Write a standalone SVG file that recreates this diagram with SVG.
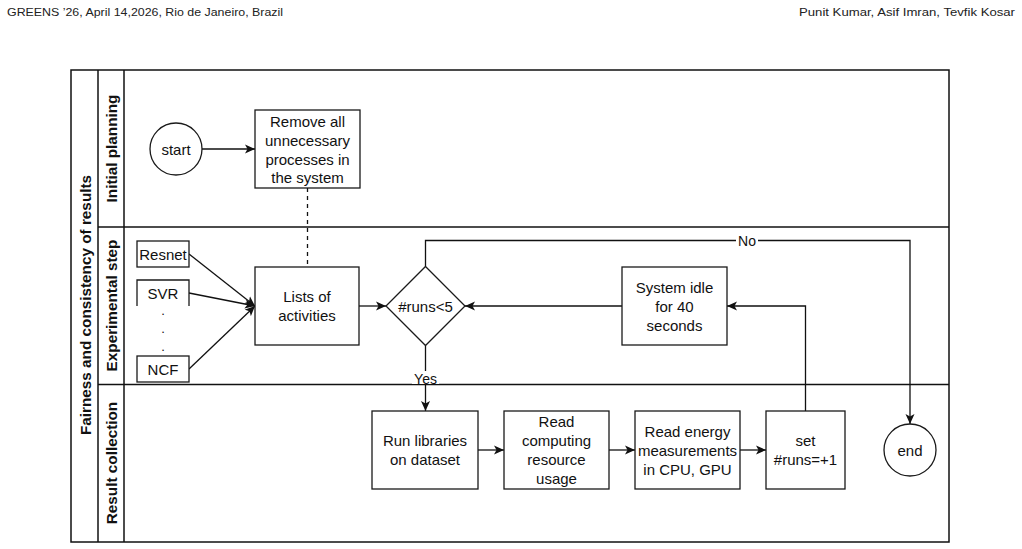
<svg xmlns="http://www.w3.org/2000/svg" width="1022" height="549" viewBox="0 0 1022 549">
<style>
.hdr{font-family:"Liberation Sans",Arial,sans-serif;font-size:11.5px;fill:#222}
.t{font-family:"Liberation Sans",Arial,sans-serif;font-size:15px;fill:#111;text-anchor:middle;dominant-baseline:central}
.b{font-family:"Liberation Sans",Arial,sans-serif;font-size:15.3px;font-weight:bold;fill:#111;text-anchor:middle;dominant-baseline:central}
.lbl{font-family:"Liberation Sans",Arial,sans-serif;font-size:14px;fill:#111;text-anchor:middle;dominant-baseline:central}
.dot{font-family:"Liberation Sans",Arial,sans-serif;font-size:13px;fill:#111;text-anchor:middle}
.box{fill:#fff;stroke:#1a1a1a;stroke-width:1.3}
.lane{fill:none;stroke:#111;stroke-width:1.5}
.e{fill:none;stroke:#111;stroke-width:1.3}
.a{marker-end:url(#arr)}
</style>
<defs>
<marker id="arr" markerUnits="userSpaceOnUse" markerWidth="11" markerHeight="10" refX="10" refY="5" orient="auto">
<path d="M0,0.5 L10,5 L0,9.5 L2.5,5 Z" fill="#111"/>
</marker>
</defs>
<rect width="1022" height="549" fill="#fff"/>
<text class="hdr" x="7" y="16" textLength="276" lengthAdjust="spacingAndGlyphs">GREENS ’26, April 14,2026, Rio de Janeiro, Brazil</text>
<text class="hdr" x="1015" y="16" text-anchor="end" textLength="216" lengthAdjust="spacingAndGlyphs">Punit Kumar, Asif Imran, Tevfik Kosar</text>

<g id="pool">
<rect class="lane" x="71" y="70" width="878" height="472"/>
<line class="lane" x1="98" y1="70" x2="98" y2="542"/>
<line class="lane" x1="124" y1="70" x2="124" y2="542"/>
<line class="lane" x1="98" y1="227" x2="949" y2="227"/>
<line class="lane" x1="98" y1="384.5" x2="949" y2="384.5"/>
<text class="b" transform="translate(85,305) rotate(-90)">Fairness and consistency of results</text>
<text class="b" transform="translate(111.5,148.5) rotate(-90)">Initial planning</text>
<text class="b" transform="translate(111.5,305.5) rotate(-90)">Experimental step</text>
<text class="b" transform="translate(111.5,463) rotate(-90)">Result collection</text>
</g>

<g id="connectors">
<line class="e a" x1="202" y1="149" x2="255" y2="149"/>
<line class="e" x1="307.5" y1="188" x2="307.5" y2="267" stroke-dasharray="4 4"/>
<line class="e a" x1="189" y1="254" x2="255" y2="306"/>
<line class="e a" x1="189" y1="293" x2="255" y2="306"/>
<line class="e a" x1="189" y1="369" x2="255" y2="306"/>
<line class="e a" x1="359" y1="306" x2="386" y2="306"/>
<polyline class="e a" points="425.5,266.5 425.5,240.5 910,240.5 910,424"/>
<line class="e a" x1="425.5" y1="345.5" x2="425.5" y2="411"/>
<line class="e a" x1="478" y1="450" x2="504" y2="450"/>
<line class="e a" x1="609" y1="450" x2="635" y2="450"/>
<line class="e a" x1="740" y1="450" x2="766" y2="450"/>
<polyline class="e a" points="805.5,411 805.5,306 727,306"/>
<line class="e a" x1="622" y1="306" x2="465" y2="306"/>
<rect x="736" y="233" width="22" height="15" fill="#fff"/>
<text class="lbl" x="747" y="240.5">No</text>
<rect x="412" y="371" width="27" height="13" fill="#fff"/>
<text class="lbl" x="425.5" y="378.5">Yes</text>
</g>

<g id="start">
<circle class="box" cx="176" cy="149" r="26"/>
<text class="t" x="176" y="149">start</text>
</g>

<g id="remove">
<rect class="box" x="255" y="110" width="105" height="78"/>
<text class="t" x="307.5" y="121">Remove all</text>
<text class="t" x="307.5" y="140">unnecessary</text>
<text class="t" x="307.5" y="159">processes in</text>
<text class="t" x="307.5" y="177">the system</text>
</g>

<g id="resnet">
<rect class="box" x="137" y="241" width="52" height="26"/>
<text class="t" x="163" y="254">Resnet</text>
</g>

<g id="svr">
<path class="box" d="M137,306 V280 H189 V306"/>
<text class="t" x="163" y="293">SVR</text>
</g>

<g id="dots">
<text class="dot" x="163" y="315">.</text>
<text class="dot" x="163" y="333">.</text>
<text class="dot" x="163" y="351">.</text>
</g>

<g id="ncf">
<rect class="box" x="137" y="356" width="52" height="26"/>
<text class="t" x="163" y="369">NCF</text>
</g>

<g id="lists">
<rect class="box" x="255" y="267" width="104" height="78"/>
<text class="t" x="307" y="296.5">Lists of</text>
<text class="t" x="307" y="315.5">activities</text>
</g>

<g id="decision">
<polygon class="box" points="425.5,266.5 465,306 425.5,345.5 386,306"/>
<text class="t" x="425.5" y="306">#runs&lt;5</text>
</g>

<g id="idle">
<rect class="box" x="622" y="267" width="105" height="78"/>
<text class="t" x="674.5" y="287">System idle</text>
<text class="t" x="674.5" y="306">for 40</text>
<text class="t" x="674.5" y="325">seconds</text>
</g>

<g id="run">
<rect class="box" x="372" y="411" width="106" height="78"/>
<text class="t" x="425" y="440.5">Run libraries</text>
<text class="t" x="425" y="459.5">on dataset</text>
</g>

<g id="readcomp">
<rect class="box" x="504" y="411" width="105" height="78"/>
<text class="t" x="556.5" y="421.5">Read</text>
<text class="t" x="556.5" y="440.5">computing</text>
<text class="t" x="556.5" y="459.5">resource</text>
<text class="t" x="556.5" y="478.5">usage</text>
</g>

<g id="readenergy">
<rect class="box" x="635" y="411" width="105" height="78"/>
<text class="t" x="687.5" y="431.5">Read energy</text>
<text class="t" x="687.5" y="450">measurements</text>
<text class="t" x="687.5" y="469">in CPU, GPU</text>
</g>

<g id="set">
<rect class="box" x="766" y="411" width="79" height="78"/>
<text class="t" x="805.5" y="440.5">set</text>
<text class="t" x="805.5" y="459.5">#runs=+1</text>
</g>

<g id="end">
<circle class="box" cx="910" cy="450" r="26"/>
<text class="t" x="910" y="450">end</text>
</g>
</svg>
